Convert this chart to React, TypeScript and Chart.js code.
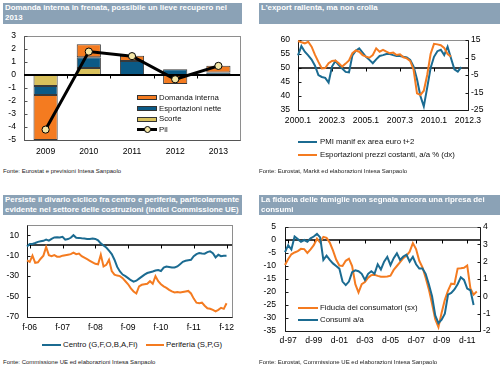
import React, { useEffect, useRef } from 'react';
import { Chart, registerables } from 'chart.js';

Chart.register(...registerables);

// ---------- colours / fonts ----------
const ORANGE = '#f47b20';
const BLUE_LINE = '#1b6b91';
const BLUE_BAR = '#0b5a86';
const YELLOW = '#d9c15c';
const TITLE_BG = '#8ba2b6';
const FONT_FAMILY = '"Liberation Sans", Arial, sans-serif';
const TICK_FONT = { family: FONT_FAMILY, size: 8.6 };

// ---------- Panel 1 data ----------
const P1_TITLE = ['Domanda interna in frenata, possibile un lieve recupero nel', '2013'];
const P1_CATEGORIES = ['2009', '2010', '2011', '2012', '2013'];
const P1_DOMANDA = [-3.46, 1.0, 0.41, -0.69, 0.52];
const P1_ESPORTAZIONI = [-0.69, 0.82, 1.08, 0.44, 0.2];
const P1_SCORTE = [-0.85, 0.54, null, null, -0.1];
const P1_PIL = [-4.2, 1.8, 1.45, -0.33, 0.7];
const P1_Y_TICKS = [-5, -4, -3, -2, -1, 0, 1, 2, 3];
const P1_NAMES = ['Domanda interna', 'Esportazioni nette', 'Scorte', 'Pil'];
const P1_SOURCE = 'Fonte: Eurostat e previsioni Intesa Sanpaolo';

// ---------- Panel 2 data ----------
const P2_TITLE = ['L\u2019export rallenta, ma non crolla'];
const P2_CATEGORIES: string[] = [];
for (let y = 2000; y <= 2012; y++) {
  for (let q = 1; q <= 4; q++) {
    if (y === 2012 && q > 3) break;
    P2_CATEGORIES.push(`${y}.${q}`);
  }
}
const P2_X_TICKS = ['2000.1', '2002.3', '2005.1', '2007.3', '2010.1', '2012.3'];
const P2_LEFT_TICKS = [35, 40, 45, 50, 55, 60];
const P2_RIGHT_TICKS = [-25, -15, -5, 5, 15];
const P2_PMI = [
  54.5, 57.8, 55.8, 54.5, 53.0, 50.8, 47.5, 46.8, 46.5, 44.8,
  50.5, 52.5, 51.0, 49.8, 48.6, 48.4, 54.5, 56.2, 57.0, 55.5,
  54.0, 52.9, 51.7, 53.1, 54.3, 54.6, 55.0, 55.0, 54.6, 54.3,
  54.3, 54.0, 53.8, 52.9, 50.5, 46.0, 40.0, 36.3, 43.0, 50.0,
  54.0, 56.0, 56.5, 54.6, 57.6, 53.5, 49.5, 48.7, 50.3, null,
  null,
];
const P2_EXPORT = [
  14.4, 13.7, 13.1, 14.0, 11.2, 6.5, 2.5, -1.2, -1.0, 1.7,
  3.0, 3.3, 1.7, -0.2, 1.5, 3.3, 7.5, 9.0, 8.3, 6.4,
  5.5, 4.9, 6.4, 10.2, 8.3, 9.3, 8.3, 7.4, 7.8, 6.4,
  6.8, 5.1, 4.5, 3.0, -2.0, -15.5, -16.4, -14.0, -5.0, 7.0,
  12.8, 12.5, 12.0, 10.5, 7.0, 5.5, null, null, null, null,
  null,
];
const P2_NAMES = ['PMI manif ex area euro t+2', 'Esportazioni prezzi costanti, a/a % (dx)'];
const P2_SOURCE = 'Fonte: Eurostat, Markit ed elaborazioni Intesa Sanpaolo';

// ---------- Panel 3 data ----------
const P3_TITLE = [
  'Persiste il divario ciclico fra centro e periferia, particolarmente',
  'evidente nel settore delle costruzioni (indici Commissione UE)',
];
const MONTH_INITIALS = ['g', 'f', 'm', 'a', 'm', 'g', 'l', 'a', 's', 'o', 'n', 'd'];
const P3_CATEGORIES: string[] = [];
for (let y = 2006; y <= 2012; y++) {
  for (let m = 0; m < 12; m++) {
    if (y === 2012 && m > 3) break;
    P3_CATEGORIES.push(`${MONTH_INITIALS[m]}-${String(y).slice(2)}`);
  }
}
const P3_X_TICKS = ['f-06', 'f-07', 'f-08', 'f-09', 'f-10', 'f-11', 'f-12'];
const P3_Y_TICKS = [-70, -50, -30, -10, 10];
const P3_CENTRO = [
  -1.0, 1.4, 1.4, 2.4, 3.5, 4.0, 4.5, 5.7, 4.7, 6.5,
  7.8, 8.0, 7.8, 8.5, 5.7, 6.2, 7.5, 10.0, 7.5, 7.4,
  7.0, 6.7, 6.4, 6.4, 6.7, 6.4, 5.0, 2.0, 0.0, -2.0,
  -5.0, -8.5, -14.0, -21.0, -25.5, -28.5, -30.0, -32.0, -34.0, -35.4,
  -34.5, -32.5, -30.5, -28.5, -27.0, -26.2, -25.5, -24.5, -24.0, -25.0,
  -21.6, -20.6, -21.0, -21.5, -21.5, -20.5, -18.3, -16.0, -15.0, -14.5,
  -14.0, -10.5, -8.5, -7.5, -7.8, -8.0, -6.5, -5.8, -7.5, -11.7,
  -9.1, -10.5, -10.2, -10.1, null, null,
];
const P3_PERIFERIA = [
  -14.5, -16.0, -10.0, -17.0, -16.5, -13.0, -10.0, -1.5, -9.5, -10.5,
  -9.5, -11.0, -11.0, -10.0, -9.5, -9.0, -8.5, -7.0, -8.5, -8.0,
  -10.5, -12.0, -13.5, -15.0, -16.5, -18.0, -18.5, -9.0, -20.5, -19.0,
  -14.0, -25.0, -28.5, -29.5, -30.0, -32.0, -35.0, -38.0, -42.0, -45.0,
  -47.0, -40.0, -38.5, -38.0, -37.5, -35.0, -37.5, -30.0, -35.0, -38.0,
  -40.0, -41.5, -43.5, -45.0, -46.0, -45.5, -46.0, -45.5, -45.0, -44.5,
  -47.0, -52.0, -56.0, -56.5, -56.0, -59.0, -61.5, -62.0, -63.0, -64.5,
  -63.0, -61.0, -62.0, -56.5, null, null,
];
const P3_NAMES = ['Centro (G,F,O,B,A,Fi)', 'Periferia (S,P,G)'];
const P3_SOURCE = 'Fonte: Commissione UE ed elaborazioni Intesa Sanpaolo';

// ---------- Panel 4 data ----------
const P4_TITLE = ['La fiducia delle famiglie non segnala ancora una ripresa dei', 'consumi'];
const QUARTER_INITIALS = ['m', 'g', 's', 'd'];
const P4_CATEGORIES: string[] = ['s-97', 'd-97'];
for (let y = 1998; y <= 2012; y++) {
  for (let q = 0; q < 4; q++) {
    P4_CATEGORIES.push(`${QUARTER_INITIALS[q]}-${String(y).slice(2)}`);
  }
}
const P4_X_TICKS = ['d-97', 'd-99', 'd-01', 'd-03', 'd-05', 'd-07', 'd-09', 'd-11'];
const P4_LEFT_TICKS = [-35, -30, -25, -20, -15, -10, -5, 0, 5];
const P4_RIGHT_TICKS = [-2, -1, 0, 1, 2, 3, 4];
const P4_FIDUCIA = [
  -9.6, -7.3, -5.5, -4.8, -4.3, -3.4, -3.5, -5.0, -3.6, -2.0,
  0.5, -1.0, 1.2, 0.8, -1.0, -4.0, -7.5, -9.8, -10.0, -8.0,
  -7.2, -10.0, -17.0, -20.2, -17.0, -16.2, -14.5, -13.5, -13.4, -13.8,
  -14.1, -14.1, -14.0, -13.7, -11.5, -10.0, -8.5, -7.0, -6.0, -4.5,
  -1.2, -3.5, -8.0, -10.5, -14.5, -19.0, -24.5, -30.5, -33.5, -28.0,
  -23.0, -19.5, -16.8, -17.0, -11.0, -10.9, -10.7, -9.8, -18.6, -21.0,
  -19.8, null,
];
const P4_CONSUMI = [
  2.55, 2.95, 2.7, 3.45, 3.3, 3.15, 3.25, 3.15, 3.35, 3.45,
  3.6, 3.4, 2.1, 2.35, 2.1, 1.9, 1.75, 1.6, 0.85, 0.65,
  0.85, 1.4, 1.5, 1.45, 1.3, 0.95, 1.3, 1.45, 1.3, 1.85,
  1.55, 2.0, 2.28, 1.8, 2.2, 2.48, 2.1, 2.3, 2.4, 2.0,
  2.28, 1.85, 1.6, 1.6, 1.3, 0.7, 0.0, -1.1, -1.55, -1.35,
  -1.0, 0.1, 0.2, 0.4, 0.7, 1.1, 0.95, 0.45, 0.35, -0.5,
  null, null,
];
const P4_NAMES = ['Fiducia dei consumatori (sx)', 'Consumi a/a'];
const P4_SOURCE = 'Fonte: Eurostat, Commissione UE ed elaborazioni Intesa Sanpaolo';

// ---------- decoration plugin (box, inward ticks, zero line) ----------
function strokeLine(ctx: any, x1: number, y1: number, x2: number, y2: number) {
  ctx.beginPath();
  ctx.moveTo(x1, y1);
  ctx.lineTo(x2, y2);
  ctx.stroke();
}

function drawZero(chart: any, opts: any) {
  const { ctx, chartArea: ca } = chart;
  const s = chart.scales[opts.zeroAxis || 'y'];
  const lw = opts.zeroWidth || 1.4;
  const y = Math.round(s.getPixelForValue(opts.zero));
  ctx.save();
  ctx.strokeStyle = '#000';
  ctx.lineWidth = lw;
  strokeLine(ctx, ca.left, y, ca.right, y);
  const xs = chart.scales.x;
  const pos: number[] = [];
  if (opts.xTicks === 'between') {
    for (let i = 0; i < xs.ticks.length - 1; i++) {
      pos.push((xs.getPixelForTick(i) + xs.getPixelForTick(i + 1)) / 2);
    }
  } else {
    xs.ticks.forEach((_t: any, i: number) => pos.push(xs.getPixelForTick(i)));
  }
  ctx.lineWidth = 1;
  pos.forEach((x) => strokeLine(ctx, Math.round(x) + 0.5, y, Math.round(x) + 0.5, y + 3.5));
  ctx.restore();
}

const decorPlugin = {
  id: 'decor',
  beforeDatasetsDraw(chart: any, _args: any, opts: any) {
    const { ctx, chartArea: ca } = chart;
    const L = Math.round(ca.left) + 0.5;
    const R = Math.round(ca.right) + 0.5;
    const T = Math.round(ca.top) + 0.5;
    const B = Math.round(ca.bottom) + 0.5;
    ctx.save();
    ctx.lineWidth = 1;
    ctx.strokeStyle = '#8e8e8e';
    ctx.strokeRect(L, T, R - L, B - T);
    ctx.strokeStyle = opts.axisColor || '#1a1a1a';
    strokeLine(ctx, L, T, L, B);
    strokeLine(ctx, L, B, R, B);
    if (chart.scales.y1) strokeLine(ctx, R, T, R, B);
    ['y', 'y1'].forEach((id) => {
      const s = chart.scales[id];
      if (!s) return;
      const right = s.position === 'right';
      const x0 = right ? R : L;
      s.ticks.forEach((_t: any, i: number) => {
        const yy = Math.round(s.getPixelForTick(i)) + 0.5;
        strokeLine(ctx, x0, yy, x0 + (right ? -3 : 3), yy);
      });
    });
    ctx.restore();
    if (opts.zeroBeforeDataset == null) drawZero(chart, opts);
  },
  beforeDatasetDraw(chart: any, args: any, opts: any) {
    if (opts.zeroBeforeDataset === args.index) drawZero(chart, opts);
  },
};

// ---------- helpers ----------
function fixedTicks(values: number[]) {
  return (scale: any) => {
    scale.ticks = values.map((v) => ({ value: v }));
  };
}
function labelTicks(labels: string[], wanted: string[]) {
  return (scale: any) => {
    scale.ticks = labels
      .map((l, i) => ({ l, i }))
      .filter((o) => wanted.includes(o.l))
      .map((o) => ({ value: o.i }));
  };
}
function width(w: number) {
  return (scale: any) => {
    scale.width = w;
  };
}
function height(h: number) {
  return (scale: any) => {
    scale.height = h;
  };
}
const noGrid = { display: false, drawTicks: false, tickLength: 0 };
const noBorder = { display: false };
const TOP_PAD = 15;

const baseOptions = (padding: any) => ({
  animation: false,
  responsive: false,
  maintainAspectRatio: false,
  devicePixelRatio: 1,
  layout: { padding },
  events: [],
});

const yTicks = (padding: number) => ({ font: TICK_FONT, color: '#000', padding, autoSkip: false });
const xTicks = (padding: number) => ({ font: TICK_FONT, color: '#000', padding, maxRotation: 0, autoSkip: false });

// ---------- chart configurations ----------
function panel1Config() {
  const barCommon = {
    borderColor: '#3a3a3a',
    borderWidth: 1,
    borderSkipped: false,
    order: 1,
    stack: 'comp',
    categoryPercentage: 1,
    barPercentage: 0.56,
  };
  return {
    type: 'bar',
    data: {
      labels: P1_CATEGORIES,
      datasets: [
        { ...barCommon, label: P1_NAMES[2], data: P1_SCORTE, backgroundColor: YELLOW },
        { ...barCommon, label: P1_NAMES[1], data: P1_ESPORTAZIONI, backgroundColor: BLUE_BAR },
        { ...barCommon, label: P1_NAMES[0], data: P1_DOMANDA, backgroundColor: ORANGE },
        {
          type: 'line',
          label: P1_NAMES[3],
          data: P1_PIL,
          borderColor: '#000',
          borderWidth: 3,
          pointRadius: 3.6,
          pointBackgroundColor: '#f4e6a6',
          pointBorderColor: '#000',
          pointBorderWidth: 1,
          order: 0,
          stack: 'pil',
          tension: 0,
        },
      ],
    },
    options: {
      ...baseOptions({ top: TOP_PAD, right: 10, left: 0, bottom: 0 }),
      plugins: {
        legend: { display: false },
        tooltip: { enabled: false },
        decor: { zero: 0, zeroWidth: 2, xTicks: 'between', zeroBeforeDataset: 3, axisColor: '#555' },
      },
      scales: {
        x: {
          stacked: true,
          grid: noGrid,
          border: noBorder,
          ticks: xTicks(6),
          afterFit: height(22),
        },
        y: {
          stacked: true,
          min: -5,
          max: 3,
          grid: noGrid,
          border: noBorder,
          ticks: yTicks(8),
          afterBuildTicks: fixedTicks(P1_Y_TICKS),
          afterFit: width(24),
        },
      },
    },
    plugins: [decorPlugin],
  };
}

function lineDataset(label: string, data: any[], color: string, axis: string, order: number) {
  return {
    label,
    data,
    borderColor: color,
    backgroundColor: color,
    borderWidth: 2,
    pointRadius: 0,
    tension: 0,
    yAxisID: axis,
    order,
    spanGaps: false,
  };
}

function panel2Config() {
  return {
    type: 'line',
    data: {
      labels: P2_CATEGORIES,
      datasets: [
        lineDataset(P2_NAMES[0], P2_PMI, BLUE_LINE, 'y', 1),
        lineDataset(P2_NAMES[1], P2_EXPORT, ORANGE, 'y1', 0),
      ],
    },
    options: {
      ...baseOptions({ top: TOP_PAD, right: 0, left: 0, bottom: 0 }),
      plugins: {
        legend: { display: false },
        tooltip: { enabled: false },
        decor: { zero: 50, zeroAxis: 'y', zeroWidth: 1.4, xTicks: 'labels' },
      },
      scales: {
        x: {
          grid: noGrid,
          border: noBorder,
          ticks: xTicks(5),
          afterBuildTicks: labelTicks(P2_CATEGORIES, P2_X_TICKS),
          afterFit: height(24),
        },
        y: {
          position: 'left',
          min: 35,
          max: 60,
          grid: noGrid,
          border: noBorder,
          ticks: yTicks(8),
          afterBuildTicks: fixedTicks(P2_LEFT_TICKS),
          afterFit: width(48),
        },
        y1: {
          position: 'right',
          min: -25,
          max: 15,
          grid: noGrid,
          border: noBorder,
          ticks: yTicks(3),
          afterBuildTicks: fixedTicks(P2_RIGHT_TICKS),
          afterFit: width(34),
        },
      },
    },
    plugins: [decorPlugin],
  };
}

function panel3Config() {
  return {
    type: 'line',
    data: {
      labels: P3_CATEGORIES,
      datasets: [
        lineDataset(P3_NAMES[0], P3_CENTRO, BLUE_LINE, 'y', 1),
        lineDataset(P3_NAMES[1], P3_PERIFERIA, ORANGE, 'y', 0),
      ],
    },
    options: {
      ...baseOptions({ top: TOP_PAD, right: 18, left: 0, bottom: 0 }),
      plugins: {
        legend: { display: false },
        tooltip: { enabled: false },
        decor: { zero: 0, zeroAxis: 'y', zeroWidth: 1.4, xTicks: 'labels' },
      },
      scales: {
        x: {
          grid: noGrid,
          border: noBorder,
          ticks: xTicks(5.5),
          afterBuildTicks: labelTicks(P3_CATEGORIES, P3_X_TICKS),
          afterFit: height(19),
        },
        y: {
          min: -70,
          max: 20,
          grid: noGrid,
          border: noBorder,
          ticks: yTicks(8),
          afterBuildTicks: fixedTicks(P3_Y_TICKS),
          afterFit: width(27),
        },
      },
    },
    plugins: [decorPlugin],
  };
}

function panel4Config() {
  return {
    type: 'line',
    data: {
      labels: P4_CATEGORIES,
      datasets: [
        lineDataset(P4_NAMES[0], P4_FIDUCIA, ORANGE, 'y', 1),
        lineDataset(P4_NAMES[1], P4_CONSUMI, BLUE_LINE, 'y1', 0),
      ],
    },
    options: {
      ...baseOptions({ top: TOP_PAD, right: 0, left: 0, bottom: 0 }),
      plugins: {
        legend: { display: false },
        tooltip: { enabled: false },
        decor: { zero: 0, zeroAxis: 'y', zeroWidth: 1.4, xTicks: 'labels' },
      },
      scales: {
        x: {
          grid: noGrid,
          border: noBorder,
          ticks: xTicks(4),
          afterBuildTicks: labelTicks(P4_CATEGORIES, P4_X_TICKS),
          afterFit: height(17),
        },
        y: {
          position: 'left',
          min: -35,
          max: 5,
          grid: noGrid,
          border: noBorder,
          ticks: yTicks(9),
          afterBuildTicks: fixedTicks(P4_LEFT_TICKS),
          afterFit: width(35),
        },
        y1: {
          position: 'right',
          min: -2,
          max: 4,
          grid: noGrid,
          border: noBorder,
          ticks: yTicks(3),
          afterBuildTicks: fixedTicks(P4_RIGHT_TICKS),
          afterFit: width(22),
        },
      },
    },
    plugins: [decorPlugin],
  };
}

// ---------- components ----------
type Rect = { left: number; top: number; width: number; height: number };

function ChartCanvas({ rect, make }: { rect: Rect; make: () => any }) {
  const ref = useRef<HTMLCanvasElement | null>(null);
  useEffect(() => {
    if (!ref.current) return;
    const chart = new Chart(ref.current, make() as any);
    return () => chart.destroy();
  }, []);
  return (
    <canvas
      ref={ref}
      width={rect.width}
      height={rect.height}
      style={{ position: 'absolute', left: rect.left, top: rect.top, width: rect.width, height: rect.height }}
    />
  );
}

function TitleBar({ left, top, w, h, lines }: { left: number; top: number; w: number; h: number; lines: string[] }) {
  return (
    <div
      style={{
        position: 'absolute',
        left,
        top,
        width: w,
        height: h,
        background: TITLE_BG,
        color: '#fff',
        fontFamily: FONT_FAMILY,
        fontWeight: 'bold',
        fontSize: 7.9,
        lineHeight: '10px',
        paddingLeft: 2,
        boxSizing: 'border-box',
        whiteSpace: 'nowrap',
        overflow: 'hidden',
      }}
    >
      {lines.map((l, i) => (
        <div key={i}>{l}</div>
      ))}
    </div>
  );
}

function Source({ left, top, text }: { left: number; top: number; text: string }) {
  return (
    <div
      style={{
        position: 'absolute',
        left,
        top: top - 4,
        height: 8,
        lineHeight: '8px',
        fontFamily: FONT_FAMILY,
        fontSize: 6,
        color: '#222',
        whiteSpace: 'nowrap',
      }}
    >
      {text}
    </div>
  );
}

function LegendText({ left, cy, text }: { left: number; cy: number; text: string }) {
  return (
    <div
      style={{
        position: 'absolute',
        left,
        top: cy - 5,
        height: 10,
        lineHeight: '10px',
        fontFamily: FONT_FAMILY,
        fontSize: 7.8,
        color: '#111',
        whiteSpace: 'nowrap',
      }}
    >
      {text}
    </div>
  );
}

function LineSwatch({ x1, x2, cy, color, thick = 2 }: { x1: number; x2: number; cy: number; color: string; thick?: number }) {
  return (
    <div
      style={{
        position: 'absolute',
        left: x1,
        top: cy - thick / 2,
        width: x2 - x1,
        height: thick,
        background: color,
      }}
    />
  );
}

function BoxSwatch({ x1, x2, cy, color }: { x1: number; x2: number; cy: number; color: string }) {
  return (
    <div
      style={{
        position: 'absolute',
        left: x1,
        top: cy - 2.5,
        width: x2 - x1,
        height: 5,
        background: color,
        border: '1px solid #333',
        boxSizing: 'border-box',
      }}
    />
  );
}

// chart-area tops: panel1 36, panel2 40, panel3 225, panel4 227 (canvas top = area top - TOP_PAD)
export default function App() {
  return (
    <div style={{ position: 'absolute', left: 0, top: 0, width: 502, height: 370, background: '#fff', overflow: 'hidden' }}>
      {/* Panel 1 */}
      <TitleBar left={3} top={3} w={239} h={21} lines={P1_TITLE} />
      <ChartCanvas rect={{ left: 0, top: 36 - TOP_PAD, width: 250, height: 162 - (36 - TOP_PAD) }} make={panel1Config} />
      <BoxSwatch x1={137} x2={157} cy={97.7} color={ORANGE} />
      <LegendText left={159} cy={97.7} text={P1_NAMES[0]} />
      <BoxSwatch x1={137} x2={157} cy={108.7} color={BLUE_BAR} />
      <LegendText left={159} cy={108.7} text={P1_NAMES[1]} />
      <BoxSwatch x1={137} x2={157} cy={119} color={YELLOW} />
      <LegendText left={159} cy={119} text={P1_NAMES[2]} />
      <LineSwatch x1={137} x2={157} cy={129.5} color="#000" thick={3} />
      <div
        style={{
          position: 'absolute',
          left: 143.5,
          top: 126,
          width: 7,
          height: 7,
          borderRadius: '50%',
          background: '#f4e6a6',
          border: '1px solid #000',
          boxSizing: 'border-box',
        }}
      />
      <LegendText left={159} cy={129.5} text={P1_NAMES[3]} />
      <Source left={3} top={171} text={P1_SOURCE} />

      {/* Panel 2 */}
      <TitleBar left={259} top={3} w={241} h={21} lines={P2_TITLE} />
      <ChartCanvas rect={{ left: 250, top: 40 - TOP_PAD, width: 252, height: 134 - (40 - TOP_PAD) }} make={panel2Config} />
      <LineSwatch x1={298} x2={317} cy={141.7} color={BLUE_LINE} />
      <LegendText left={320} cy={141.7} text={P2_NAMES[0]} />
      <LineSwatch x1={298} x2={317} cy={155.3} color={ORANGE} />
      <LegendText left={320} cy={155.3} text={P2_NAMES[1]} />
      <Source left={259} top={171} text={P2_SOURCE} />

      {/* Panel 3 */}
      <TitleBar left={3} top={195} w={239} h={20} lines={P3_TITLE} />
      <ChartCanvas rect={{ left: 0, top: 225 - TOP_PAD, width: 250, height: 336 - (225 - TOP_PAD) }} make={panel3Config} />
      <LineSwatch x1={42} x2={61} cy={345} color={BLUE_LINE} />
      <LegendText left={63} cy={345} text={P3_NAMES[0]} />
      <LineSwatch x1={146} x2={164} cy={345} color={ORANGE} />
      <LegendText left={166} cy={345} text={P3_NAMES[1]} />
      <Source left={3} top={362} text={P3_SOURCE} />

      {/* Panel 4 */}
      <TitleBar left={259} top={195} w={241} h={20} lines={P4_TITLE} />
      <ChartCanvas rect={{ left: 250, top: 227 - TOP_PAD, width: 252, height: 348 - (227 - TOP_PAD) }} make={panel4Config} />
      <LineSwatch x1={298} x2={318} cy={307.7} color={ORANGE} />
      <LegendText left={320} cy={307.7} text={P4_NAMES[0]} />
      <LineSwatch x1={298} x2={318} cy={320.3} color={BLUE_LINE} />
      <LegendText left={320} cy={320.3} text={P4_NAMES[1]} />
      <Source left={259} top={362} text={P4_SOURCE} />
    </div>
  );
}
